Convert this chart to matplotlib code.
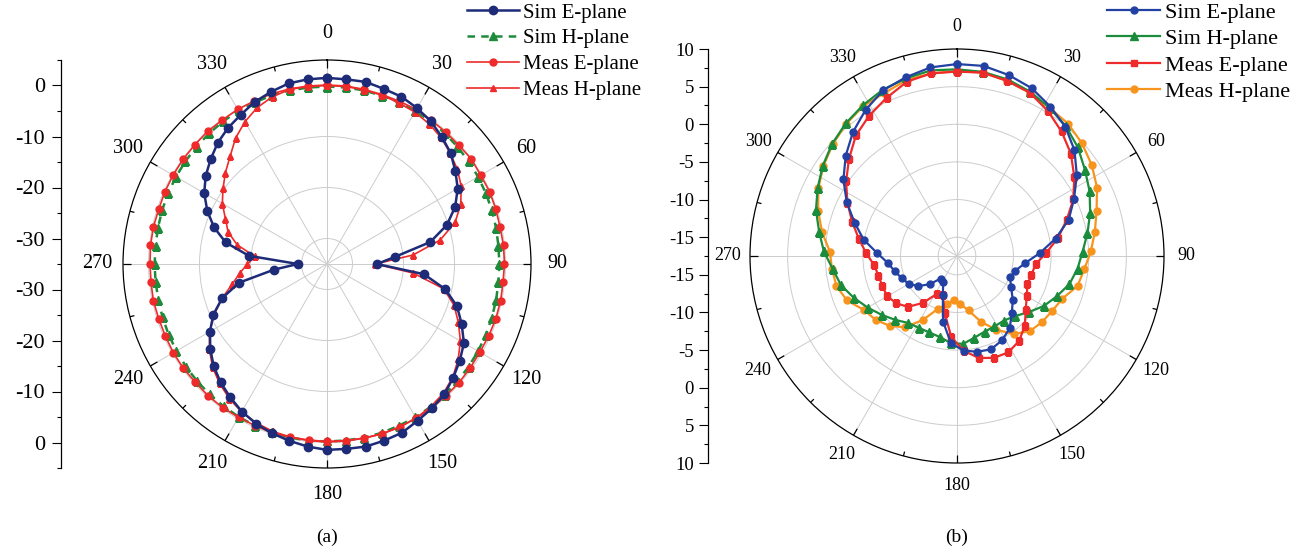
import numpy as np
import matplotlib
matplotlib.use('Agg')
import matplotlib.pyplot as plt

plt.rcParams['font.family'] = ['Liberation Serif', 'DejaVu Serif']

# ---- panel (a): patterns sampled every 6 degrees (dB)
ang_a = np.arange(0, 360, 6)
sim_e_a = [1.5, 1.4, 1.5, 1.1, 0.9, 0.3, -0.4, -1.4, -2.4, -3.9,
           -5.4, -7.5, -10.3, -14.3, -21.6, -25.2, -15.9, -11.3, -8.2, -6.1,
           -4.0, -2.8, -1.7, -0.6, 0.0, 0.5, 1.2, 1.4, 1.6, 1.45,
           1.45, 1.0, 0.45, -0.1, -0.75, -1.6, -2.7, -3.8, -5.1, -6.7,
           -8.5, -10.6, -13.4, -17.4, -24.6, -29.3, -19.6, -14.7, -11.7, -9.3,
           -7.2, -5.6, -4.3, -3.0, -2.0, -1.2, -0.2, 0.5, 1.2, 1.4]
sim_h_a = [-0.2, -0.2, -0.2, -0.3, -0.3, -0.4, -0.4, -0.5, -0.6, -0.7,
           -0.8, -0.9, -1.0, -1.1, -1.2, -1.2, -1.2, -1.1, -1.0, -0.9,
           -0.8, -0.7, -0.6, -0.5, -0.4, -0.3, -0.3, -0.2, -0.2, -0.2,
           -0.2, -0.2, -0.2, -0.3, -0.3, -0.4, -0.5, -0.6, -0.7, -0.8,
           -0.9, -1.0, -1.1, -1.2, -1.2, -1.2, -1.2, -1.1, -1.0, -0.9,
           -0.8, -0.7, -0.6, -0.5, -0.4, -0.3, -0.3, -0.2, -0.2, -0.2]
meas_e_a = [0.1, 0.1, 0.0, -0.1, -0.1, 0.0, -0.2, -0.2, -0.2, 0.0,
            -0.2, -0.1, -0.2, -0.3, -0.2, -0.2, -0.3, -0.2, -0.2, -0.3,
            -0.4, -0.3, -0.2, -0.2, -0.1, -0.1, 0.0, 0.0, -0.1, -0.2,
            -0.2, -0.3, -0.3, -0.2, -0.3, -0.3, -0.2, -0.2, -0.3, -0.2,
            -0.2, -0.3, -0.3, -0.2, -0.3, -0.3, -0.2, -0.2, -0.3, -0.2,
            -0.15, -0.1, -0.1, 0.0, -0.1, 0.0, 0.0, 0.1, 0.1, 0.1]
meas_h_a = [0.0, 0.0, -0.1, -0.2, -0.4, -0.6, -1.0, -1.6, -2.5, -3.4,
            -4.6, -6.3, -8.6, -12.3, -18.0, -25.5, -18.0, -11.6, -8.8, -6.8,
            -4.8, -3.2, -1.8, -0.9, -0.4, -0.1, 0.0, 0.0, -0.1, -0.1,
            -0.1, -0.2, -0.3, -0.5, -0.9, -1.5, -2.4, -3.5, -4.8, -6.5,
            -8.4, -10.8, -13.4, -16.0, -17.8, -19.4, -20.8, -17.0, -14.6, -13.2,
            -11.3, -9.8, -8.2, -6.6, -4.5, -2.8, -1.4, -0.5, 0.0, 0.0]

# ---- panel (b): patterns sampled every 8 degrees (dB)
ang_b = np.arange(0, 360, 8)
sim_e_b = [8.0, 8.0, 7.5, 6.9, 5.9, 4.9, 3.5, 1.7, -0.2, -1.9,
           -4.2, -6.5, -8.4, -9.5, -9.9, -9.2, -8.1, -7.0, -5.6, -4.8,
           -4.3, -4.5, -4.9, -5.9, -8.6, -12.0, -13.6, -13.8, -12.3, -11.0,
           -10.1, -9.6, -9.0, -8.3, -6.9, -4.9, -3.2, -1.2, 0.7, 2.4,
           4.0, 5.4, 6.6, 7.2, 7.8]
sim_h_b = [7.3, 7.2, 6.9, 6.4, 5.7, 5.0, 4.1, 3.0, 2.1, 1.1,
           0.1, -0.8, -1.4, -2.1, -3.2, -4.2, -5.4, -6.4, -6.9, -6.9,
           -6.8, -6.4, -5.8, -5.9, -6.5, -6.7, -6.7, -6.5, -5.7, -4.8,
           -3.8, -2.7, -1.6, -0.9, 0.2, 1.1, 2.2, 3.1, 4.0, 4.8,
           5.5, 6.1, 6.7, 7.05, 7.4]
meas_e_b = [7.0, 7.1, 6.7, 6.25, 5.25, 4.1, 2.85, 1.3, -0.3, -2.2,
            -3.9, -5.65, -7.0, -7.3, -7.4, -6.8, -5.9, -4.55, -3.5, -3.0,
            -3.1, -3.65, -4.9, -6.7, -9.7, -12.0, -11.8, -9.8, -8.1, -7.3,
            -6.8, -6.8, -6.75, -6.4, -5.4, -4.25, -2.86, -1.3, 0.27, 1.8,
            3.4, 4.5, 5.5, 6.6, 7.0]
meas_h_b = [7.07, 7.1, 6.7, 6.25, 5.7, 5.45, 4.85, 4.1, 3.2, 2.0,
            1.1, 0.3, -0.5, -1.0, -2.4, -2.9, -3.2, -3.6, -4.7, -6.4,
            -8.2, -10.1, -11.1, -11.6, -11.0, -10.0, -7.9, -5.8, -4.6, -3.76,
            -3.2, -1.73, -1.0, -0.8, -0.6, 0.7, 1.9, 3.0, 3.9, 4.7,
            5.4, 6.0, 6.2, 6.83, 7.0]

angle_labels = ['0', '30', '60', '90', '120', '150', '180',
                '210', '240', '270', '300', '330']
scale_a = [0, -10, -20, -30]
scale_b = [10, 5, 0, -5, -10, -15]

W, H = 1304, 554
fig = plt.figure(figsize=(W / 100, H / 100), dpi=100)


def closed(ang, vals):
    th = np.deg2rad(np.append(ang, ang[0]))
    return th, np.append(vals, vals[0])


def polar_panel(rect, rmin, rmax, rgrid, lab_r, lab_fs, tick_major, tick_minor):
    ax = fig.add_axes(rect, projection='polar')
    ax.set_theta_zero_location('N')
    ax.set_theta_direction(-1)
    ax.set_ylim(rmin, rmax)
    ax.set_yticks(rgrid)
    ax.set_yticklabels([])
    ax.set_xticks(np.deg2rad(np.arange(0, 360, 30)))
    ax.set_xticklabels([])
    ax.tick_params(axis='both', length=0)
    ax.grid(True, which='major', color='#cccccc', lw=0.7)
    ax.spines['polar'].set_linewidth(0.9)
    # inward ticks on the outer ring
    ax.vlines(np.deg2rad(np.arange(0, 360, 30)), rmax - tick_major, rmax,
              color='k', lw=0.9, zorder=6)
    ax.vlines(np.deg2rad(np.arange(15, 360, 30)), rmax - tick_minor, rmax,
              color='k', lw=0.9, zorder=6)
    ax.set_ylim(rmin, rmax)
    for a, t in zip(range(0, 360, 30), angle_labels):
        ax.text(np.deg2rad(a), lab_r, t, ha='center', va='center',
                fontsize=lab_fs, clip_on=False)
    return ax


def scale_axis(x, rect, rmin, rmax, majors, fs, pad):
    span = rmax - rmin
    sax = fig.add_axes([x, rect[1], 0.0001, rect[3]])
    sax.set_ylim(-span, span)
    for s in ['right', 'top', 'bottom']:
        sax.spines[s].set_visible(False)
    sax.spines['left'].set_linewidth(0.9)
    sax.patch.set_visible(False)
    sax.set_xticks([])
    pos = [v - rmin for v in majors]
    allpos = pos + [-p for p in pos]
    sax.set_yticks(allpos)
    sax.set_yticklabels([str(v) for v in majors] * 2)
    step = (majors[0] - majors[1]) / 2
    minor = np.arange(-span, span + 0.01, step)
    sax.set_yticks([m for m in minor if min(abs(m - p) for p in allpos) > 0.01], minor=True)
    sax.tick_params(axis='y', which='major', direction='out', length=6.5, width=0.8,
                    labelsize=fs, pad=pad)
    sax.tick_params(axis='y', which='minor', direction='out', length=3, width=0.8)
    return sax


# ---------------- panel (a)
rect_a = [123 / W, 1 - 468 / H, 408 / W, 408 / H]
ax_a = polar_panel(rect_a, -35, 5, [-30, -20, -10, 0], 10.1, 14.5, 1.6, 0.9)
navy = '#1d2b78'
red = '#ee2a2a'
green = '#1e8b3a'

th, r = closed(ang_a, sim_e_a)
l1, = ax_a.plot(th, r, '-o', color=navy, lw=1.8, ms=6, label='Sim E-plane', zorder=5)
th, r = closed(ang_a, sim_h_a)
l2, = ax_a.plot(th, r, '^', ls=(0, (3, 2.5)), color=green, lw=1.8, ms=5.5,
                label='Sim H-plane', zorder=3)
th, r = closed(ang_a, meas_e_a)
l3, = ax_a.plot(th, r, '-o', color=red, lw=1.2, ms=5, label='Meas E-plane', zorder=4)
th, r = closed(ang_a, meas_h_a)
l4, = ax_a.plot(th, r, '-^', color=red, lw=1.2, ms=4, label='Meas H-plane', zorder=4)

scale_axis(61 / W, rect_a, -35, 5, scale_a, 16, 5)

fig.legend(handles=[l1, l2, l3, l4], loc='upper left',
           bbox_to_anchor=(467 / W, 1 - 3 / H), bbox_transform=fig.transFigure,
           frameon=False, numpoints=1, fontsize=15, handlelength=2.5,
           handletextpad=0.2, labelspacing=0.3, borderpad=0, borderaxespad=0)

# ---------------- panel (b)
rect_b = [750 / W, 1 - 463 / H, 414 / W, 414 / H]
ax_b = polar_panel(rect_b, -17.5, 10, [-15, -10, -5, 0, 5], 13.0, 13, 1.0, 0.6)
blue = '#2341a2'
green_b = '#1b8c3b'
orange = '#f7941d'

th, r = closed(ang_b, sim_e_b)
m1, = ax_b.plot(th, r, '-o', color=blue, lw=1.6, ms=5, label='Sim E-plane', zorder=5)
th, r = closed(ang_b, sim_h_b)
m2, = ax_b.plot(th, r, '-^', color=green_b, lw=1.6, ms=6, label='Sim H-plane', zorder=4)
th, r = closed(ang_b, meas_e_b)
m3, = ax_b.plot(th, r, '-s', color=red, lw=1.6, ms=5, label='Meas E-plane', zorder=4)
th, r = closed(ang_b, meas_h_b)
m4, = ax_b.plot(th, r, '-o', color=orange, lw=1.6, ms=5, label='Meas H-plane', zorder=3)

scale_axis(708 / W, rect_b, -17.5, 10, scale_b, 13.5, 3.5)

fig.legend(handles=[m1, m2, m3, m4], loc='upper left',
           bbox_to_anchor=(1107 / W, 1 - 2 / H), bbox_transform=fig.transFigure,
           frameon=False, numpoints=1, fontsize=16, handlelength=2.4,
           handletextpad=0.2, labelspacing=0.27, borderpad=0, borderaxespad=0)

fig.text(327 / W, 1 - 537 / H, '(a)', ha='center', va='center', fontsize=14)
fig.text(957 / W, 1 - 537 / H, '(b)', ha='center', va='center', fontsize=14)

fig.savefig('out.png', dpi=100)
